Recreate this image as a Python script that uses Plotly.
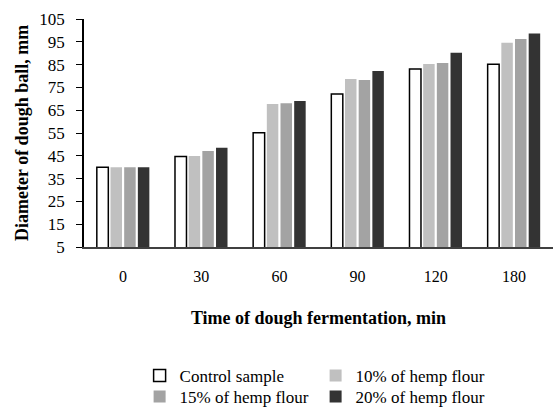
import plotly.graph_objects as go

times = ["0", "30", "60", "90", "120", "180"]
control = [40, 44.7, 55.1, 72.1, 83.1, 85.1]
hemp10 = [40, 44.9, 67.7, 78.7, 85.3, 94.6]
hemp15 = [40, 47.1, 68.0, 78.2, 85.7, 96.2]
hemp20 = [40, 48.5, 69.0, 82.2, 90.2, 98.6]
y_ticks = [5, 15, 25, 35, 45, 55, 65, 75, 85, 95, 105]

series = [
    ("Control sample", control, "white", "black", 1.5, "legend"),
    ("10% of hemp flour", hemp10, "#c0c0c0", "#c0c0c0", 0, "legend"),
    ("15% of hemp flour", hemp15, "#a3a3a3", "#a3a3a3", 0, "legend2"),
    ("20% of hemp flour", hemp20, "#333333", "#333333", 0, "legend2"),
]

FONT = "Liberation Serif"

fig = go.Figure()
for name, vals, fill, line, lw, leg in series:
    fig.add_trace(go.Bar(
        x=times, y=vals, name=name, legend=leg,
        marker=dict(color=fill, line=dict(color=line, width=lw)),
    ))

leg_common = dict(
    orientation="h", xref="container", yref="container",
    xanchor="left", yanchor="middle",
    font=dict(family=FONT, size=17, color="black"),
    entrywidth=131, entrywidthmode="pixels",
    traceorder="normal", itemclick=False, bgcolor="rgba(0,0,0,0)",
)

fig.update_layout(
    width=554, height=407,
    margin=dict(l=84, r=1, t=19, b=160, autoexpand=False),
    paper_bgcolor="white", plot_bgcolor="white",
    barmode="group", bargap=0.30, bargroupgap=0.16,
    font=dict(family=FONT, size=16, color="black"),
    showlegend=True,
    legend=dict(x=0.252, y=1 - 376 / 407, **leg_common),
    legend2=dict(x=0.252, y=1 - 397 / 407, **leg_common),
)
fig.update_xaxes(
    type="category", showline=True, linecolor="#404040", linewidth=1.5,
    ticks="", showgrid=False, ticklabelstandoff=14, automargin=False,
    tickfont=dict(family=FONT, size=16),
    title=dict(text="<b>Time of dough fermentation, min</b>",
               font=dict(family=FONT, size=18), standoff=27),
)
fig.update_yaxes(
    range=[5, 105], tickvals=y_ticks, showline=True, linecolor="black",
    linewidth=1.5, ticks="outside", ticklen=6, tickcolor="black",
    showgrid=False, zeroline=False, automargin=False, ticklabelstandoff=8,
    tickfont=dict(family=FONT, size=17),
)
fig.add_annotation(
    text="<b>Diameter of dough ball, mm</b>", textangle=-90,
    xref="paper", yref="paper", x=-(84 - 22) / 469, y=0.5,
    xanchor="center", yanchor="middle", showarrow=False,
    font=dict(family=FONT, size=18, color="black"),
)

fig.write_html("out.html", config={"displayModeBar": False},
               post_script="document.body.style.margin='0';")
